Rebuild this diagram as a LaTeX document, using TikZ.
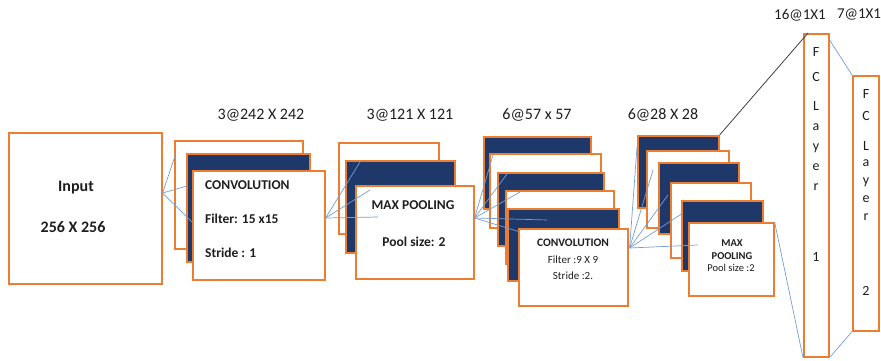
\documentclass[tikz,border=0pt]{standalone}
\usepackage{fontspec}
\setmainfont{Carlito}
\definecolor{mapOrange}{RGB}{237,125,49}
\definecolor{mapNavy}{RGB}{31,56,106}
\definecolor{linkBlue}{RGB}{115,158,212}
\definecolor{txtGray}{RGB}{30,30,30}

\begin{document}
\begin{tikzpicture}[x=1pt, y=-1pt,
    fmap/.style={draw=mapOrange, line width=1.6pt, fill=white, anchor=north west, inner sep=0pt},
    fmapdark/.style={fmap, fill=mapNavy},
    link/.style={linkBlue, line width=0.7pt},
    dimlbl/.style={txtGray, font=\fontsize{16}{18}\selectfont},
    boldtxt/.style={txtGray, inner sep=0pt, font=\bfseries\fontsize{#1}{#1}\selectfont},
    plaintxt/.style={txtGray, inner sep=0pt, font=\fontsize{#1}{#1}\selectfont},
    fcletters/.style={txtGray, inner sep=0pt, anchor=north, align=center, font=\fontsize{14}{#1}\selectfont}]
    \useasboundingbox (0,0) rectangle (881,361);
    % --- input ---
    \node[fmap, minimum width=153pt, minimum height=151pt] (in) at (8,132) {};
    \node[boldtxt=16] (intxt) at (76,188) {Input};
    \node[boldtxt=16] (insize) at (73,227) {256 X 256};
    % --- first convolution ---
    \node[fmap, minimum width=128pt, minimum height=108pt] (c1a) at (174,140) {};
    \node[fmapdark, minimum width=123pt, minimum height=108pt] (c1b) at (186,153) {};
    \node[fmap, minimum width=132pt, minimum height=109pt] (c1c) at (192,170) {};
    \node[boldtxt=13.5, anchor=west] (c1name) at (205,185) {CONVOLUTION};
    \node[boldtxt=13.5, anchor=west] (c1filter) at (205,219) {Filter: 15 x15};
    \node[boldtxt=13.5, anchor=west] (c1stride) at (205,253) {Stride : 1};
    \node[dimlbl] (c1dim) at (261,115) {3@242 X 242};
    % --- first pooling ---
    \node[fmap, minimum width=100pt, minimum height=91pt] (p1a) at (338,142) {};
    \node[fmapdark, minimum width=109pt, minimum height=92pt] (p1b) at (345,160) {};
    \node[fmap, minimum width=118pt, minimum height=93pt] (p1c) at (355,185) {};
    \node[boldtxt=13.5] (p1name) at (413,205) {MAX POOLING};
    \node[boldtxt=13.5] (p1size) at (414,242) {Pool size: 2};
    \node[dimlbl] (p1dim) at (410,115) {3@121 X 121};
    % --- second convolution ---
    \node[fmapdark, minimum width=107pt, minimum height=72pt] (c2a) at (483,136) {};
    \node[fmap, minimum width=111pt, minimum height=74pt] (c2b) at (489,153) {};
    \node[fmapdark, minimum width=106pt, minimum height=73pt] (c2c) at (497,172) {};
    \node[fmap, minimum width=108pt, minimum height=73pt] (c2d) at (505,190) {};
    \node[fmapdark, minimum width=111pt, minimum height=72pt] (c2e) at (507,208) {};
    \node[fmap, minimum width=109pt, minimum height=77pt] (c2f) at (518,228) {};
    \node[boldtxt=11.5] (c2name) at (573,243) {CONVOLUTION};
    \node[plaintxt=11] (c2filter) at (573,260) {Filter :9 X 9};
    \node[plaintxt=11] (c2stride) at (573,276) {Stride :2.};
    \node[dimlbl] (c2dim) at (537,115) {6@57 x 57};
    % --- second pooling ---
    \node[fmapdark, minimum width=81pt, minimum height=72pt] (p2a) at (637,135) {};
    \node[fmap, minimum width=82pt, minimum height=77pt] (p2b) at (646,150) {};
    \node[fmapdark, minimum width=80pt, minimum height=71pt] (p2c) at (658,162) {};
    \node[fmap, minimum width=80pt, minimum height=75pt] (p2d) at (670,182) {};
    \node[fmapdark, minimum width=81pt, minimum height=70pt] (p2e) at (681,200) {};
    \node[fmap, minimum width=85pt, minimum height=73pt] (p2f) at (688,222) {};
    \node[boldtxt=10.5] (p2max) at (732,243) {MAX};
    \node[boldtxt=10.5] (p2pool) at (732,256) {POOLING};
    \node[plaintxt=10.5] (p2size) at (731,268) {Pool size :2};
    \node[dimlbl] (p2dim) at (663,115) {6@28 X 28};
    % --- fully connected ---
    \node[fmap, minimum width=25pt, minimum height=323pt] (fc1) at (803,33) {};
    \node[fmap, minimum width=26pt, minimum height=255pt] (fc2) at (852,75) {};
    \node[fcletters=20] (fc1txt) at (816,47)
      {F\\[5pt]C\\[9pt]L\\a\\y\\e\\r\\[51pt]1};
    \node[fcletters=18] (fc2txt) at (866,89)
      {F\\[4pt]C\\[12pt]L\\[-2pt]a\\y\\e\\r\\[57pt]2};
    \node[dimlbl, font=\fontsize{15}{17}\selectfont] (fc1dim) at (800,15) {16@1X1};
    \node[dimlbl, font=\fontsize{15}{17}\selectfont] (fc2dim) at (859,15) {7@1X1};
    % --- connections ---
    \draw[link] ([shift={(0,61)}]in.north east) -- ([shift={(2,13)}]c1a.north west);
    \draw[link] ([shift={(0,61)}]in.north east) -- ([shift={(1,33)}]c1b.north west);
    \draw[link] ([shift={(0,61)}]in.north east) -- ([shift={(0,52)}]c1c.north west);
    \draw[link] ([shift={(0,48)}]c1c.north east) -- ([shift={(15,2)}]p1b.north west);
    \draw[link] ([shift={(0,48)}]c1c.north east) -- ([shift={(15,5)}]p1c.north west);
    \draw[link] ([shift={(0,48)}]c1c.north east) -- ([shift={(23,32)}]p1c.north west);
    \draw[link] ([shift={(0,33)}]p1c.north east) -- ([shift={(4,2)}]c2b.north west);
    \draw[link] ([shift={(0,33)}]p1c.north east) -- ([shift={(10,2)}]c2c.north west);
    \draw[link] ([shift={(0,33)}]p1c.north east) -- ([shift={(15,2)}]c2d.north west);
    \draw[link] ([shift={(0,33)}]p1c.north east) -- ([shift={(40,12)}]c2e.north west);
    \draw[link] ([shift={(0,33)}]p1c.north east) -- ([shift={(2,4)}]c2f.north west);
    \draw[link] ([shift={(1,20)}]c2f.north east) -- ([shift={(0,12)}]p2a.north west);
    \draw[link] ([shift={(1,20)}]c2f.north east) -- ([shift={(7,20)}]p2b.north west);
    \draw[link] ([shift={(1,20)}]c2f.north east) -- ([shift={(10,33)}]p2c.north west);
    \draw[link] ([shift={(1,20)}]c2f.north east) -- ([shift={(13,31)}]p2d.north west);
    \draw[link] ([shift={(1,20)}]c2f.north east) -- ([shift={(10,23)}]p2f.north west);
    \draw[black!75, line width=0.8pt] (p2a.north east) -- ([shift={(5,0)}]fc1.north west);
    \draw[link] (p2f.north east) -- (fc1.south west);
    \draw[link] ([shift={(0,7)}]fc1.north east) -- (fc2.north west);
    \draw[link] (fc1.south east) -- (fc2.south west);
  \end{tikzpicture}
\end{document}
